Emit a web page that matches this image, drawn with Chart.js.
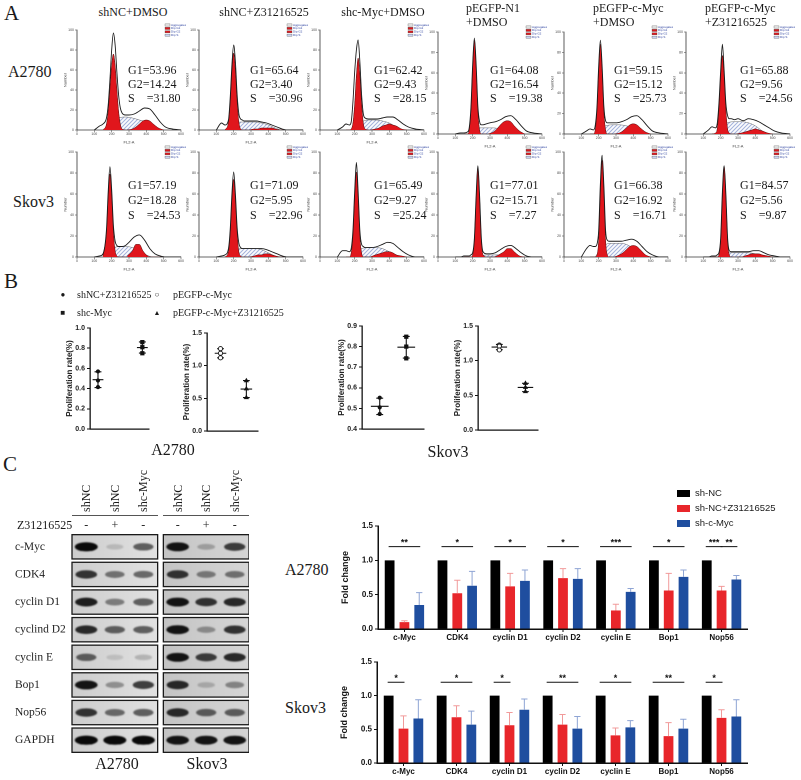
<!DOCTYPE html>
<html>
<head>
<meta charset="utf-8">
<title>c-Myc / Z31216525 figure</title>
<script src="https://cdn.jsdelivr.net/npm/chart.js@4.4.1/dist/chart.umd.min.js"></script>
<style>
  html, body { margin: 0; padding: 0; background: #fff; }
  #page { position: relative; width: 801px; height: 780px; overflow: hidden;
          font-family: "Liberation Serif", "DejaVu Serif", serif; color: #1a1a1a; }
  .t { position: absolute; white-space: pre; line-height: 1; z-index: 5; }
  canvas { position: absolute; }
</style>
</head>
<body>
<div id="page"></div>
<script>
// ---------- A: cell cycle histograms ----------
const cellLines = ['A2780', 'Skov3'];
const histTitles = [['shNC+DMSO'], ['shNC+Z31216525'], ['shc-Myc+DMSO'],
                    ['pEGFP-N1', '+DMSO'], ['pEGFP-c-Myc', '+DMSO'], ['pEGFP-c-Myc', '+Z31216525']];
const pctG1 = [53.96, 65.64, 62.42, 64.08, 59.15, 65.88, 57.19, 71.09, 65.49, 77.01, 66.38, 84.57];
const pctG2 = [14.24, 3.40, 9.43, 16.54, 15.12, 9.56, 18.28, 5.95, 9.27, 15.71, 16.92, 5.56];
const pctS  = [31.80, 30.96, 28.15, 19.38, 25.73, 24.56, 24.53, 22.96, 25.24, 7.27, 16.71, 9.87];

// channel grids (FL2-A) for the outline and the fitted components
const histX = [100,130,150,170,180,190,200,210,220,230,240,250,260,280,300,330,360,390,420,450,480,510,550,600];
const g1X = [150,170,180,190,200,210,220,230,240,250,260,280];
const g2X = [290,320,340,360,380,400,420,440,470,500];
const sX  = [180,210,240,280,320,360,400,440,470];

const histTotal = [
  [0,4,6,12,25,50,80,97,85,58,35,22,17,15,15,16,19,22,21,15,8,3,1,0],
  [0,7,5,10,32,65,85,68,35,16,11,10,9,9,9,9,8,7,5,3,1,0,0,0],
  [0,3,6,5,8,28,58,80,90,68,35,16,12,11,11,11,12,13,13,10,6,3,1,0],
  [0,1,1,2,6,26,68,94,68,27,12,9,9,10,11,12,14,17,18,14,8,3,1,0],
  [0,3,5,4,8,26,66,92,66,27,13,11,11,11,11,12,14,17,18,14,8,3,1,0],
  [0,4,7,6,10,30,62,88,62,30,18,15,15,14,15,13,15,14,12,9,6,3,1,0],
  [0,1,3,26,62,86,64,30,15,11,10,10,10,11,14,19,21,16,8,3,1,0,0,0],
  [0,1,2,8,26,60,81,60,28,13,9,8,8,8,8,8,8,7,5,3,1,0,0,0],
  [0,6,6,5,8,25,62,90,62,25,12,10,9,9,9,10,12,14,13,9,5,2,0,0],
  [0,0,1,1,1,2,4,18,58,87,58,18,5,3,3,4,7,10,11,8,4,1,0,0],
  [0,8,11,10,10,12,25,70,97,68,25,16,15,15,15,15,16,17,15,10,5,2,0,0],
  [0,0,1,1,2,4,18,62,87,60,18,6,5,5,5,5,5,6,6,4,2,1,0,0]
];
const histG1 = [
  [0,6,19,41,65,76,65,41,19,6,1,0],
  [0,8,28,59,77,59,28,8,1,0,0,0],
  [0,0,1,7,26,55,72,55,26,7,1,0],
  [0,0,4,23,65,92,65,23,4,0,0,0],
  [0,0,4,22,62,88,62,22,4,0,0,0],
  [0,1,5,24,57,77,57,24,5,1,0,0],
  [1,24,58,79,58,24,6,1,0,0,0,0],
  [0,5,23,55,74,55,23,5,1,0,0,0],
  [0,0,4,20,58,81,58,20,4,0,0,0],
  [0,0,0,0,2,16,56,85,56,16,2,0],
  [0,0,0,2,16,61,92,61,16,2,0,0],
  [0,0,0,2,16,57,86,57,16,2,0,0]
];
const histG2 = [
  [0,1,3,6,9,10,9,6,2,0],
  [0,1,1,2,2,2,2,1,0,0],
  [0,1,2,4,5,6,5,4,1,0],
  [0,2,5,9,12,13,12,8,3,0],
  [0,1,3,6,9,10,9,6,2,0],
  [0,1,2,3,4,5,4,3,1,0],
  [1,6,12,12,6,2,0,0,0,0],
  [0,1,2,2,3,3,2,1,0,0],
  [0,2,3,4,5,5,4,2,1,0],
  [0,0,1,3,5,8,8,5,1,0],
  [0,2,4,7,10,11,10,7,2,0],
  [0,0,1,2,3,3,3,2,1,0]
];
const histS = [
  [0,8,12,13,12,10,8,3,0],
  [0,6,8,8,8,7,5,2,0],
  [0,3,8,10,10,9,7,3,0],
  [0,4,6,6,6,5,4,2,0],
  [0,5,8,9,9,8,6,2,0],
  [0,7,11,12,12,11,8,3,0],
  [0,8,10,10,9,6,2,0,0],
  [0,6,8,8,8,7,4,1,0],
  [0,5,8,9,9,8,5,2,0],
  [0,0,1,2,2,2,2,1,0],
  [0,7,12,13,13,12,8,3,0],
  [0,2,4,4,4,4,3,1,0]
];

// ---------- B: proliferation ----------
const prolifLegend = ['shNC+Z31216525', 'pEGFP-c-Myc', 'shc-Myc', 'pEGFP-c-Myc+Z31216525'];
const prolifA_Z   = [0.57, 0.48, 0.415];
const prolifA_sh  = [0.86, 0.81, 0.75];
const prolifA_OE  = [1.26, 1.19, 1.12];
const prolifA_OEZ = [0.77, 0.645, 0.51];
const prolifS_Z   = [0.552, 0.505, 0.473];
const prolifS_sh  = [0.848, 0.80, 0.743];
const prolifS_OE  = [1.226, 1.21, 1.154];
const prolifS_OEZ = [0.673, 0.615, 0.553];

// ---------- C: western blot + quantification ----------
const proteins = ['c-Myc', 'CDK4', 'cyclin D1', 'cyclind D2', 'cyclin E', 'Bop1', 'Nop56', 'GAPDH'];
const laneNames = ['shNC', 'shNC', 'shc-Myc'];
const drugMarks = ['-', '+', '-'];
const bandA2780 = [[1.0,0.15,0.6],[0.8,0.5,0.55],[0.9,0.45,0.6],[0.85,0.6,0.6],
                   [0.6,0.12,0.2],[0.95,0.35,0.75],[0.8,0.55,0.6],[1.0,1.0,1.0]];
const bandSkov3 = [[0.95,0.25,0.75],[0.8,0.45,0.5],[0.95,0.8,0.85],[0.95,0.35,0.8],
                   [0.95,0.75,0.85],[0.85,0.2,0.4],[0.85,0.6,0.6],[0.95,0.95,0.95]];

const genes = ['c-Myc', 'CDK4', 'cyclin D1', 'cyclin D2', 'cyclin E', 'Bop1', 'Nop56'];
const barGroups = ['sh-NC', 'sh-NC+Z31216525', 'sh-c-Myc'];
const foldNC  = [1, 1, 1, 1, 1, 1, 1];
const foldA_Z  = [0.10, 0.52, 0.62, 0.74, 0.27, 0.56, 0.56];
const foldA_sh = [0.35, 0.63, 0.70, 0.73, 0.54, 0.76, 0.72];
const errA_Z   = [0.02, 0.19, 0.19, 0.14, 0.09, 0.25, 0.06];
const errA_sh  = [0.18, 0.21, 0.16, 0.15, 0.05, 0.10, 0.06];
const foldS_Z  = [0.51, 0.68, 0.56, 0.57, 0.41, 0.40, 0.67];
const foldS_sh = [0.66, 0.57, 0.79, 0.51, 0.53, 0.51, 0.69];
const errS_Z   = [0.19, 0.17, 0.19, 0.15, 0.11, 0.20, 0.12];
const errS_sh  = [0.28, 0.20, 0.16, 0.18, 0.10, 0.14, 0.25];
// [gene, from bar, to bar, stars]
const sigA = [[0,0,2,'**'],[1,0,2,'*'],[2,0,2,'*'],[3,0,2,'*'],[4,0,2,'***'],[5,0,2,'*'],[6,0,1,'***'],[6,1,2,'**']];
const sigS = [[0,0,1,'*'],[1,0,2,'*'],[2,0,1,'*'],[3,0,2,'**'],[4,0,2,'*'],[5,0,2,'**'],[6,0,1,'*']];

// ---------- helpers ----------
Chart.defaults.animation = false;
Chart.defaults.responsive = false;
Chart.defaults.devicePixelRatio = 2;
Chart.defaults.events = [];
Chart.defaults.font.family = '"Liberation Sans", Arial, sans-serif';
Chart.defaults.color = '#000';
Chart.defaults.plugins.legend.display = false;
Chart.defaults.plugins.tooltip.enabled = false;

const page = document.getElementById('page');
const SANS = '"Liberation Sans", Arial, sans-serif';

function addText(s, x, y, size, align, css) {
  const d = document.createElement('div');
  d.className = 't';
  d.textContent = s;
  d.style.left = x + 'px';
  d.style.top = y + 'px';
  d.style.fontSize = size + 'px';
  const tx = align === 'center' ? '-50%' : align === 'right' ? '-100%' : '0';
  d.style.transform = 'translate(' + tx + ',-50%)';
  if (css) Object.assign(d.style, css);
  page.appendChild(d);
  return d;
}

function addChart(x, y, w, h, config) {
  const c = document.createElement('canvas');
  c.width = w; c.height = h;
  c.style.left = x + 'px'; c.style.top = y + 'px';
  c.style.width = w + 'px'; c.style.height = h + 'px';
  page.appendChild(c);
  return new Chart(c, config);
}

const pts = (xs, ys) => xs.map((x, i) => ({ x: x, y: ys[i] }));
const mean = a => a.reduce((s, v) => s + v, 0) / a.length;
const sdev = a => { const m = mean(a); return Math.sqrt(a.reduce((s, v) => s + (v - m) * (v - m), 0) / (a.length - 1)); };

let hatchTile = null;
function hatch(ctx) {
  if (!hatchTile) {
    hatchTile = document.createElement('canvas');
    hatchTile.width = 4; hatchTile.height = 4;
    const g = hatchTile.getContext('2d');
    g.strokeStyle = '#2f4fae'; g.lineWidth = 0.7;
    g.beginPath();
    g.moveTo(0, 4); g.lineTo(4, 0);
    g.moveTo(-1, 1); g.lineTo(1, -1);
    g.moveTo(3, 5); g.lineTo(5, 3);
    g.stroke();
  }
  return ctx.chart.ctx.createPattern(hatchTile, 'repeat');
}

// tiny ModFit style key in the corner of each histogram
const histKey = {
  id: 'histKey',
  afterDraw(chart) {
    const { ctx, chartArea } = chart;
    const x = chartArea.right - 16, y0 = chartArea.top - 5;
    ctx.save();
    ctx.font = '3px ' + SANS;
    ctx.textBaseline = 'middle';
    chart.data.datasets.forEach((ds, i) => {
      const y = y0 + i * 3.4;
      ctx.fillStyle = i === 0 ? '#e6e6e6' : i === 3 ? '#c9d2f0' : '#d9191f';
      ctx.fillRect(x, y - 1.1, 5, 2.2);
      ctx.strokeStyle = '#444'; ctx.lineWidth = 0.3;
      ctx.strokeRect(x, y - 1.1, 5, 2.2);
      ctx.fillStyle = '#2a3f9e';
      ctx.fillText(ds.label, x + 6, y);
    });
    ctx.restore();
  }
};

function histConfig(k) {
  const tickFont = { size: 3.5 };
  return {
    type: 'line',
    data: {
      datasets: [
        { label: 'Aggregates', data: pts(histX, histTotal[k]), borderColor: '#1b1b1b', borderWidth: 0.9, fill: false, order: 0 },
        { label: 'Dip G1', data: pts(g1X, histG1[k]), borderColor: '#4d0707', borderWidth: 0.5, backgroundColor: '#e0161c', fill: 'origin', order: 1 },
        { label: 'Dip G2', data: pts(g2X, histG2[k]), borderColor: '#4d0707', borderWidth: 0.5, backgroundColor: '#e0161c', fill: 'origin', order: 2 },
        { label: 'Dip S', data: pts(sX, histS[k]), borderColor: '#444', borderWidth: 0.4, backgroundColor: hatch, fill: 'origin', order: 3 }
      ]
    },
    options: {
      layout: { padding: { top: 8, right: 5 } },
      elements: { point: { radius: 0 }, line: { cubicInterpolationMode: 'monotone' } },
      scales: {
        x: {
          type: 'linear', min: 0, max: 600,
          ticks: { stepSize: 100, autoSkip: false, maxRotation: 0, font: tickFont, color: '#444', padding: 0 },
          grid: { drawOnChartArea: false, tickLength: 2, color: '#333', lineWidth: 0.5 },
          border: { color: '#333', width: 0.8 },
          title: { display: true, text: 'FL2-A', font: { size: 4 }, color: '#333', padding: 0 },
          afterFit: s => { s.height = 15; }
        },
        y: {
          min: 0, max: 100,
          ticks: { stepSize: 20, font: tickFont, color: '#444', padding: 1 },
          grid: { drawOnChartArea: false, tickLength: 2, color: '#333', lineWidth: 0.5 },
          border: { color: '#333', width: 0.8 },
          title: { display: true, text: 'Number', font: { size: 4 }, color: '#333', padding: 0 },
          afterFit: s => { s.width = 14; }
        }
      }
    },
    plugins: [histKey]
  };
}

// ---------- panel A layout ----------
addText('A', 4, 13, 21);
const colX = [77, 199, 320, 438, 564, 686];
const rowBox = [[[30,130],[30,130],[30,130],[32,134],[32,134],[32,134]],
                [[152,257],[152,257],[152,257],[152,257],[152,257],[152,257]]];
const titleCenter = [133, 264, 383];
const titleLeft = [466, 593, 705];
histTitles.forEach((t, c) => {
  if (t.length === 1) addText(t[0], titleCenter[c], 12, 12, 'center');
  else { addText(t[0], titleLeft[c - 3], 8, 12); addText(t[1], titleLeft[c - 3], 22, 12); }
});
addText(cellLines[0], 8, 72, 16);
addText(cellLines[1], 13, 202, 16);
const statX = [128, 250, 374, 490, 614, 740];
const statY = [[70, 84, 98], [185, 200, 215]];
for (let r = 0; r < 2; r++) {
  for (let c = 0; c < 6; c++) {
    const k = r * 6 + c;
    const [top, bottom] = rowBox[r][c];
    addChart(colX[c] - 14, top - 8, 14 + 104 + 5, (bottom - top) + 8 + 15, histConfig(k));
    addText('G1=' + pctG1[k].toFixed(2), statX[c], statY[r][0], 12);
    addText('G2=' + pctG2[k].toFixed(2), statX[c], statY[r][1], 12);
    addText('S    =' + pctS[k].toFixed(2), statX[c], statY[r][2], 12);
  }
}

// ---------- panel B ----------
addText('B', 4, 281, 21);
const markers = ['\u25CF', '\u25CB', '\u25A0', '\u25B2'];
[[63, 295], [157, 295], [63, 313], [157, 313]].forEach(([x, y], i) => {
  addText(markers[i], x, y, i === 3 ? 7 : 8, 'center');
  addText(prolifLegend[i], i % 2 === 0 ? 77 : 173, y, 10);
});

const dotLayout = [
  { left: 90,  top: 328, bottom: 429, right: 150, yMin: 0,   yMax: 1.0, step: 0.2, xMin: 0.82,  xMax: 2.15,  half: 5.5 },
  { left: 207, top: 333, bottom: 431, right: 260, yMin: 0,   yMax: 1.5, step: 0.5, xMin: 0.478, xMax: 2.454, half: 6 },
  { left: 362, top: 326, bottom: 429, right: 425, yMin: 0.4, yMax: 0.9, step: 0.1, xMin: 0.332, xMax: 2.668, half: 9 },
  { left: 478, top: 326, bottom: 430, right: 540, yMin: 0,   yMax: 1.5, step: 0.5, xMin: 0.184, xMax: 2.484, half: 8 }
];
const dotGroups = [
  [[prolifA_Z, 'circle', false], [prolifA_sh, 'rect', false]],
  [[prolifA_OE, 'circle', true], [prolifA_OEZ, 'triangle', false]],
  [[prolifS_Z, 'circle', false], [prolifS_sh, 'rect', false]],
  [[prolifS_OE, 'circle', true], [prolifS_OEZ, 'triangle', false]]
];

dotLayout.forEach((L, p) => {
  const unit = (L.xMax - L.xMin) / (L.right - L.left);
  const datasets = [];
  dotGroups[p].forEach(([vals, style, open], gi) => {
    const gx = gi + 1, m = mean(vals), sd = sdev(vals);
    const hw = L.half * unit, cw = 3.5 * unit;
    datasets.push({
      data: vals.map(v => ({ x: gx, y: v })),
      pointStyle: style, pointRadius: style === 'circle' ? 2.1 : 3,
      backgroundColor: open ? '#fff' : '#111', borderColor: '#111', borderWidth: open ? 0.9 : 0
    });
    datasets.push({
      data: [{ x: gx - hw, y: m }, { x: gx + hw, y: m }, { x: gx, y: null },
             { x: gx, y: m - sd }, { x: gx, y: m + sd }, { x: gx, y: null },
             { x: gx - cw, y: m + sd }, { x: gx + cw, y: m + sd }, { x: gx, y: null },
             { x: gx - cw, y: m - sd }, { x: gx + cw, y: m - sd }],
      showLine: true, pointRadius: 0, borderColor: '#111', borderWidth: 1.1, spanGaps: false
    });
  });
  const cx = L.left - 26, cy = L.top - 7;
  addChart(cx, cy, L.right - cx + 3, (L.bottom - L.top) + 14, {
    type: 'scatter',
    data: { datasets: datasets },
    options: {
      layout: { padding: { top: 7, right: 3 } },
      scales: {
        x: { type: 'linear', min: L.xMin, max: L.xMax, ticks: { display: false }, grid: { display: false },
             border: { color: '#111', width: 1.3 }, afterFit: s => { s.height = 7; } },
        y: { min: L.yMin, max: L.yMax,
             ticks: { stepSize: L.step, callback: v => v.toFixed(1), font: { size: 7, weight: 'bold' }, color: '#222', padding: 2 },
             grid: { drawOnChartArea: false, tickLength: 3, color: '#111', lineWidth: 1 },
             border: { color: '#111', width: 1.3 },
             title: { display: true, text: 'Proliferation rate(%)', font: { size: 8, weight: 'bold' }, color: '#222', padding: 1 },
             afterFit: s => { s.width = 26; } }
      }
    }
  });
});
addText(cellLines[0], 173, 450, 16, 'center');
addText(cellLines[1], 448, 452, 16, 'center');

// ---------- panel C: western blot ----------
addText('C', 3, 464, 21);
const lanePos = (g, l) => g * 3.2 + l + 0.5;
const bandPoints = [];
proteins.forEach((p, r) => {
  [bandA2780, bandSkov3].forEach((src, g) => {
    src[r].forEach((v, l) => bandPoints.push({ x: lanePos(g, l), y: r, v: v }));
  });
});

const blotDraw = {
  id: 'blotDraw',
  beforeDatasetsDraw(chart) {
    const { ctx, scales: { x, y } } = chart;
    ctx.save();
    proteins.forEach((p, r) => {
      [0, 1].forEach(g => {
        const x0 = x.getPixelForValue(g * 3.2), x1 = x.getPixelForValue(g * 3.2 + 3);
        const ya = y.getPixelForValue(r - 0.44), yb = y.getPixelForValue(r + 0.44);
        const top = Math.min(ya, yb), h = Math.abs(yb - ya);
        const grad = ctx.createLinearGradient(x0, 0, x1, 0);
        grad.addColorStop(0, g ? '#c4c4c4' : '#cdcdcd');
        grad.addColorStop(1, g ? '#d6d6d6' : '#e2e2e2');
        ctx.fillStyle = grad;
        ctx.fillRect(x0, top, x1 - x0, h);
        ctx.strokeStyle = '#1a1a1a'; ctx.lineWidth = 1.3;
        ctx.strokeRect(x0, top, x1 - x0, h);
      });
    });
    ctx.restore();
  },
  afterDatasetsDraw(chart) {
    const { ctx } = chart;
    const meta = chart.getDatasetMeta(0);
    const data = chart.data.datasets[0].data;
    ctx.save();
    ctx.filter = 'blur(1.6px)';
    meta.data.forEach((pt, i) => {
      const v = data[i].v;
      ctx.fillStyle = 'rgba(10,10,10,' + v + ')';
      ctx.beginPath();
      ctx.ellipse(pt.x, pt.y, 8 + 3.5 * v, 2.4 + 2.2 * v, 0, 0, Math.PI * 2);
      ctx.fill();
    });
    ctx.restore();
  }
};

const blot = addChart(15, 525, 234, 237, {
  type: 'scatter',
  data: { datasets: [{ data: bandPoints, pointRadius: 0 }] },
  options: {
    layout: { padding: { top: 8, bottom: 8 } },
    scales: {
      x: { type: 'linear', min: 0, max: 6.2, display: false },
      y: { type: 'linear', min: -0.5, max: 7.5, reverse: true,
           afterBuildTicks: s => { s.ticks = proteins.map((_, i) => ({ value: i })); },
           ticks: { callback: v => proteins[v], crossAlign: 'far', padding: 0, color: '#222',
                    font: { family: '"Liberation Serif", serif', size: 11.5 } },
           grid: { display: false }, border: { display: false },
           afterFit: s => { s.width = 57; } }
    }
  },
  plugins: [blotDraw]
});

// lane headers from the blot's own x scale
[0, 1].forEach(g => {
  laneNames.forEach((name, l) => {
    const px = 15 + blot.scales.x.getPixelForValue(lanePos(g, l));
    const d = addText(name, px, 512, 12, 'left', { writingMode: 'vertical-rl', lineHeight: '1' });
    d.style.transform = 'translate(-50%,-100%) rotate(180deg)';
    addText(drugMarks[l], px, 525, 12, 'center');
  });
  const x0 = 15 + blot.scales.x.getPixelForValue(g * 3.2), x1 = 15 + blot.scales.x.getPixelForValue(g * 3.2 + 3);
  const line = document.createElement('div');
  line.style.cssText = 'position:absolute;height:0;border-top:1.2px solid #555;left:' + x0 + 'px;top:515px;width:' + (x1 - x0) + 'px';
  page.appendChild(line);
});
addText('Z31216525', 17, 525, 12);
addText(cellLines[0], 117, 764, 16, 'center');
addText(cellLines[1], 207, 764, 16, 'center');
addText(cellLines[0], 285, 570, 16);
addText(cellLines[1], 285, 708, 16);

// ---------- panel C: fold change bars ----------
const errorBars = {
  id: 'errorBars',
  afterDatasetsDraw(chart) {
    const { ctx, scales: { y } } = chart;
    chart.data.datasets.forEach((ds, i) => {
      if (!ds.errs) return;
      const meta = chart.getDatasetMeta(i);
      ctx.save();
      ctx.strokeStyle = ds.errColor; ctx.lineWidth = 1;
      meta.data.forEach((bar, j) => {
        const top = y.getPixelForValue(ds.data[j] + ds.errs[j]);
        const w = bar.width * 0.32;
        ctx.beginPath();
        ctx.moveTo(bar.x, bar.y); ctx.lineTo(bar.x, top);
        ctx.moveTo(bar.x - w, top); ctx.lineTo(bar.x + w, top);
        ctx.stroke();
      });
      ctx.restore();
    });
  }
};
const sigMarks = {
  id: 'sigMarks',
  afterDatasetsDraw(chart, args, opts) {
    const { ctx, scales: { y } } = chart;
    const yy = y.getPixelForValue(opts.level);
    ctx.save();
    ctx.strokeStyle = '#111'; ctx.fillStyle = '#111'; ctx.lineWidth = 1;
    ctx.font = 'bold 9px ' + SANS;
    ctx.textAlign = 'center'; ctx.textBaseline = 'alphabetic';
    opts.marks.forEach(([g, a, b, label]) => {
      const xa = chart.getDatasetMeta(a).data[g].x, xb = chart.getDatasetMeta(b).data[g].x;
      ctx.beginPath(); ctx.moveTo(xa - 1, yy); ctx.lineTo(xb + 1, yy); ctx.stroke();
      ctx.fillText(label, (xa + xb) / 2, yy - 1);
    });
    ctx.restore();
  }
};

const barColors = ['#000000', '#e8262b', '#1f4e9f'];
const errColors = [null, '#f19a9a', '#8ea4d4'];
function barConfig(z, sh, ez, esh, sig, xh) {
  return {
    type: 'bar',
    data: {
      labels: genes,
      datasets: [
        { label: barGroups[0], data: foldNC, backgroundColor: barColors[0] },
        { label: barGroups[1], data: z, backgroundColor: barColors[1], errs: ez, errColor: errColors[1] },
        { label: barGroups[2], data: sh, backgroundColor: barColors[2], errs: esh, errColor: errColors[2] }
      ]
    },
    options: {
      layout: { padding: { top: 8 } },
      datasets: { bar: { categoryPercentage: 0.84, barPercentage: 0.66 } },
      plugins: { sigMarks: { marks: sig, level: 1.2 } },
      scales: {
        x: { grid: { drawOnChartArea: false, offset: false, tickLength: 3, color: '#111', lineWidth: 1 },
             border: { color: '#111', width: 1.5 },
             ticks: { font: { size: 8, weight: 'bold' }, color: '#111', padding: 1, maxRotation: 0, autoSkip: false },
             afterFit: s => { s.height = xh; } },
        y: { min: 0, max: 1.5,
             ticks: { stepSize: 0.5, callback: v => v.toFixed(1), font: { size: 8, weight: 'bold' }, color: '#111', padding: 2 },
             grid: { drawOnChartArea: false, tickLength: 3, color: '#111', lineWidth: 1 },
             border: { color: '#111', width: 1.5 },
             title: { display: true, text: 'Fold change', font: { size: 9, weight: 'bold' }, color: '#111', padding: 2 },
             afterFit: s => { s.width = 40; } }
      }
    },
    plugins: [errorBars, sigMarks]
  };
}
addChart(338, 518, 410, 129, barConfig(foldA_Z, foldA_sh, errA_Z, errA_sh, sigA, 18));
addChart(337, 654, 411, 125, barConfig(foldS_Z, foldS_sh, errS_Z, errS_sh, sigS, 16));

// legend of the bar charts
barGroups.forEach((name, i) => {
  const y = 493 + i * 15;
  const sw = document.createElement('div');
  sw.style.cssText = 'position:absolute;left:677px;top:' + (y - 3.5) + 'px;width:13px;height:7px;background:' + barColors[i];
  page.appendChild(sw);
  addText(name, 695, y, 9.5, 'left', { fontFamily: SANS });
});
</script>
</body>
</html>
